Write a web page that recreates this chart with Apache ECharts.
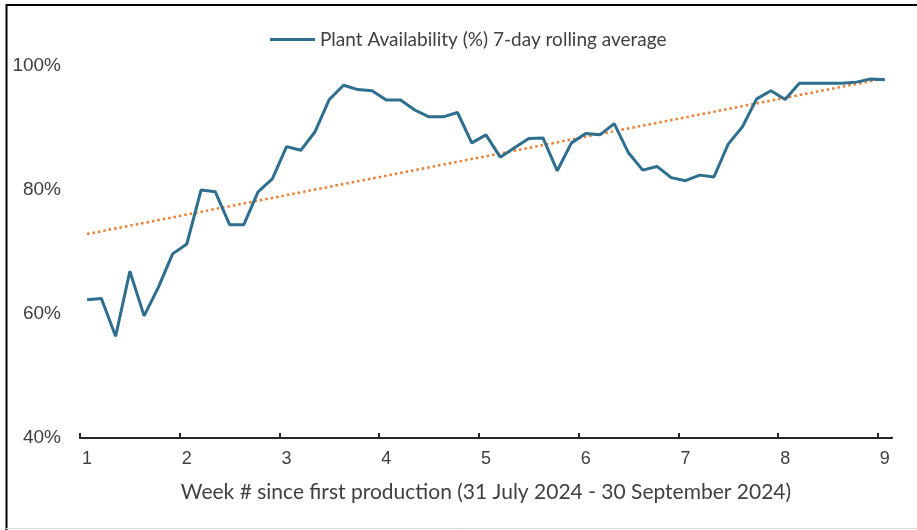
<!DOCTYPE html>
<html>
<head>
<meta charset="utf-8">
<script src="https://cdn.jsdelivr.net/npm/echarts@6/dist/echarts.min.js"></script>
<style>html,body{margin:0;padding:0;background:#fff;}#c{width:917px;height:530px;}</style>
</head>
<body>
<div id="c"></div>
<script>
// Days of the 7-day rolling average (category axis)
var days = ['1','2','3','4','5','6','7','8','9','10','11','12','13','14','15','16','17','18','19','20',
  '21','22','23','24','25','26','27','28','29','30','31','32','33','34','35','36','37','38','39','40',
  '41','42','43','44','45','46','47','48','49','50','51','52','53','54','55','56','57'];
// Week tick labels (one every 7 days)
var weekLabels = ['1','2','3','4','5','6','7','8','9'];
// Plant Availability (%) 7-day rolling average
var availability = [62.3,62.5,56.4,66.9,59.7,64.3,69.7,71.3,80.0,79.7,
  74.4,74.4,79.7,81.8,87.0,86.4,89.4,94.6,96.9,96.2,
  96.0,94.5,94.5,92.9,91.8,91.8,92.5,87.6,88.9,85.3,
  86.8,88.3,88.4,83.1,87.6,89.1,88.9,90.7,86.0,83.2,
  83.8,82.0,81.5,82.4,82.1,87.4,90.2,94.7,96.0,94.6,
  97.2,97.2,97.2,97.2,97.4,97.9,97.8];
// Linear trendline end points
var trendStart = 72.9;
var trendEnd = 98.0;
var yTicks = [40, 60, 80, 100];

var chart = echarts.init(document.getElementById('c'));
chart.setOption({
  animation: false,
  backgroundColor: '#ffffff',
  grid: {left: 80, right: 25, top: 66, bottom: 92},
  legend: {
    data: ['Plant Availability (%) 7-day rolling average'],
    left: 270, top: 30, padding: 0,
    icon: 'rect', itemWidth: 45, itemHeight: 3,
    textStyle: {fontFamily: 'Lato', fontSize: 19, color: '#404040'}
  },
  xAxis: {
    type: 'category',
    data: days,
    boundaryGap: true,
    axisLine: {lineStyle: {color: '#262626', width: 2}},
    axisTick: {show: true, inside: true, length: 5,
      interval: function (i) { return i % 7 === 0; },
      lineStyle: {color: '#262626', width: 2}},
    axisLabel: {
      interval: 6, margin: 12,
      fontFamily: 'Liberation Sans', fontSize: 18, color: '#404040',
      formatter: function (v, i) { return weekLabels[Math.round(i / 7)]; }
    },
    splitLine: {show: false},
    name: 'Week # since first production (31 July 2024 - 30 September 2024)',
    nameLocation: 'middle', nameGap: 44,
    nameTextStyle: {fontFamily: 'Lato', fontSize: 21, color: '#404040'}
  },
  yAxis: {
    type: 'value', min: yTicks[0], max: yTicks[yTicks.length - 1], interval: 20,
    axisLine: {show: false}, axisTick: {show: false}, splitLine: {show: false},
    axisLabel: {margin: 19, fontFamily: 'Liberation Sans', fontSize: 19, color: '#404040',
      formatter: '{value}%'}
  },
  series: [
    {
      name: 'Plant Availability (%) 7-day rolling average',
      type: 'line', data: availability, showSymbol: false, symbol: 'none',
      lineStyle: {color: '#2E6E8E', width: 3}, itemStyle: {color: '#2E6E8E'}, z: 3
    },
    {
      name: 'trend', type: 'line', symbol: 'none',
      data: [[days[0], trendStart], [days[days.length - 1], trendEnd]],
      lineStyle: {color: '#ED7D31', width: 2.5, type: [2.5, 3]}, z: 2
    }
  ],
  graphic: [
    {type: 'rect', shape: {x: 885, y: 428, width: 12, height: 8.8}, style: {fill: '#ffffff'}, z: 100},
    {type: 'line', shape: {x1: 6, y1: 5, x2: 917, y2: 5}, style: {stroke: '#000', lineWidth: 2}},
    {type: 'line', shape: {x1: 6.5, y1: 4, x2: 6.5, y2: 530}, style: {stroke: '#000', lineWidth: 2}},
    {type: 'line', shape: {x1: 6, y1: 528.5, x2: 917, y2: 528.5}, style: {stroke: '#d9d9d9', lineWidth: 1}}
  ]
});
</script>
</body>
</html>
